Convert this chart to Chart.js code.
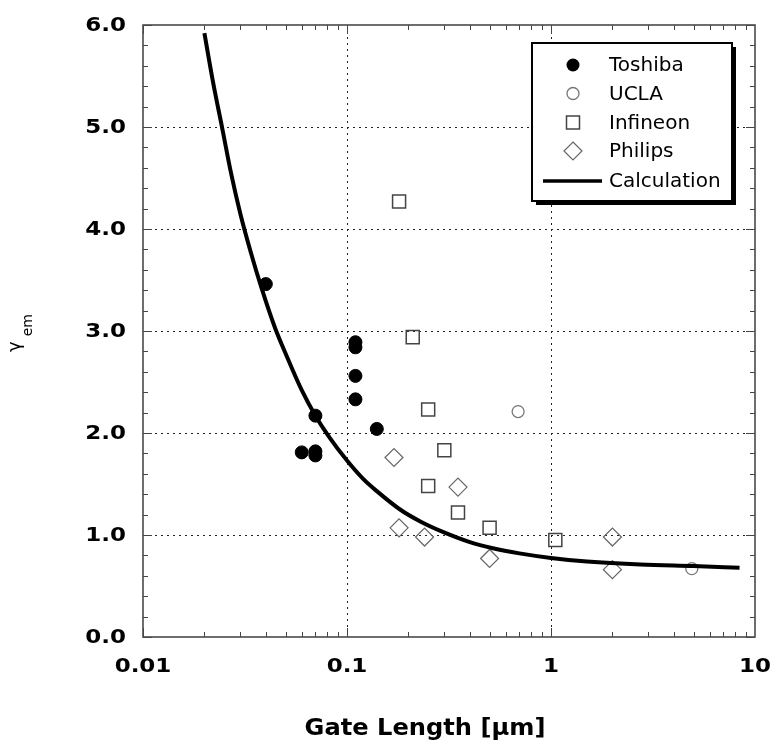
<!DOCTYPE html>
<html>
<head>
<meta charset="utf-8">
<script src="https://cdn.jsdelivr.net/npm/chart.js@4.4.1/dist/chart.umd.min.js"></script>
<style>
  html, body { margin: 0; padding: 0; background: #ffffff; }
  #c { display: block; }
</style>
</head>
<body>
<canvas id="c" width="772" height="740"></canvas>
<script>
// ---- data ----
const toshibaX = [0.04, 0.06, 0.07, 0.07, 0.07, 0.11, 0.11, 0.11, 0.11, 0.14];
const toshibaY = [3.46, 1.81, 1.82, 1.78, 2.17, 2.89, 2.84, 2.56, 2.33, 2.04];
const uclaX = [0.69, 4.9];
const uclaY = [2.21, 0.67];
const infineonX = [0.18, 0.21, 0.25, 0.30, 0.25, 0.35, 0.50, 1.05];
const infineonY = [4.27, 2.94, 2.23, 1.83, 1.48, 1.22, 1.07, 0.95];
const philipsX = [0.17, 0.35, 0.18, 0.24, 0.50, 2.0, 2.0];
const philipsY = [1.76, 1.47, 1.07, 0.98, 0.77, 0.98, 0.66];
const calcX = [0.02, 0.022, 0.0245, 0.027, 0.03, 0.034, 0.038, 0.0444, 0.05, 0.06, 0.07, 0.0825, 0.1, 0.12, 0.14, 0.182, 0.23, 0.295, 0.4, 0.519, 0.7, 1.0, 1.5, 2.75, 5.0, 8.4];
const calcY = [5.92, 5.45, 4.98, 4.55, 4.15, 3.75, 3.43, 3.03, 2.78, 2.42, 2.17, 1.95, 1.73, 1.55, 1.43, 1.25, 1.13, 1.03, 0.93, 0.87, 0.82, 0.775, 0.74, 0.71, 0.695, 0.68];

const seriesNames = ['Toshiba', 'UCLA', 'Infineon', 'Philips', 'Calculation'];
const xTickValues = [0.01, 0.1, 1, 10];
const xTickLabels = ['0.01', '0.1', '1', '10'];
const yTickValues = [0, 1, 2, 3, 4, 5, 6];
const yTickLabels = ['0.0', '1.0', '2.0', '3.0', '4.0', '5.0', '6.0'];
const xTitle = 'Gate Length [\u03BCm]';
const yTitleMain = '\u03B3';
const yTitleSub = 'em';

function pts(xs, ys) { return xs.map((x, i) => ({ x: x, y: ys[i] })); }

const BOLD = 'bold 20px "DejaVu Sans"';

const framePlugin = {
  id: 'frame',
  beforeDatasetsDraw(chart) {
    const { ctx, chartArea: a, scales } = chart;
    const xs = scales.x, ys = scales.y;
    ctx.save();
    ctx.strokeStyle = '#222';
    ctx.lineWidth = 1;
    ctx.setLineDash([2, 4]);
    [0.1, 1].forEach(v => {
      const px = Math.round(xs.getPixelForValue(v)) + 0.5;
      ctx.beginPath(); ctx.moveTo(px, a.top); ctx.lineTo(px, a.bottom); ctx.stroke();
    });
    [1, 2, 3, 4, 5].forEach(v => {
      const py = Math.round(ys.getPixelForValue(v)) + 0.5;
      ctx.beginPath(); ctx.moveTo(a.left, py); ctx.lineTo(a.right, py); ctx.stroke();
    });
    ctx.restore();
  },
  afterDatasetsDraw(chart) {
    const { ctx, chartArea: a, scales } = chart;
    const xs = scales.x, ys = scales.y;
    ctx.save();
    // ticks
    ctx.strokeStyle = '#444';
    ctx.lineWidth = 1;
    ctx.setLineDash([]);
    const decades = [0.01, 0.1, 1];
    decades.forEach(d => {
      for (let m = 1; m <= 9; m++) {
        const v = d * m;
        const px = Math.round(xs.getPixelForValue(v)) + 0.5;
        const len = m === 1 ? 9 : 5;
        ctx.beginPath(); ctx.moveTo(px, a.bottom); ctx.lineTo(px, a.bottom - len); ctx.stroke();
        ctx.beginPath(); ctx.moveTo(px, a.top); ctx.lineTo(px, a.top + len); ctx.stroke();
      }
    });
    for (let i = 0; i <= 30; i++) {
      const v = i * 0.2;
      const py = Math.round(ys.getPixelForValue(v)) + 0.5;
      const len = (i % 5 === 0) ? 9 : 5;
      ctx.beginPath(); ctx.moveTo(a.left, py); ctx.lineTo(a.left + len, py); ctx.stroke();
      ctx.beginPath(); ctx.moveTo(a.right, py); ctx.lineTo(a.right - len, py); ctx.stroke();
    }
    // frame
    ctx.strokeStyle = '#4a4a4a';
    ctx.lineWidth = 1.6;
    ctx.strokeRect(a.left, a.top, a.right - a.left, a.bottom - a.top);

    // tick labels (wide bold face)
    ctx.fillStyle = '#000';
    ctx.font = BOLD;
    ctx.textBaseline = 'middle';
    const sx = 1.15;
    ctx.textAlign = 'right';
    yTickValues.forEach((v, i) => {
      const py = ys.getPixelForValue(v);
      ctx.save(); ctx.translate(126, py + 1); ctx.scale(sx, 1);
      ctx.fillText(yTickLabels[i], 0, 0); ctx.restore();
    });
    ctx.textAlign = 'center';
    xTickValues.forEach((v, i) => {
      const px = xs.getPixelForValue(v);
      ctx.save(); ctx.translate(px, 667); ctx.scale(sx, 1);
      ctx.fillText(xTickLabels[i], 0, 0); ctx.restore();
    });
    // x title
    ctx.font = 'bold 23px "DejaVu Sans"';
    ctx.textBaseline = 'alphabetic';
    ctx.save(); ctx.translate(425, 735); ctx.scale(1.05, 1);
    ctx.fillText(xTitle, 0, 0); ctx.restore();
    // y title (gamma with subscript), rotated
    ctx.save();
    ctx.translate(20, 352);
    ctx.rotate(-Math.PI / 2);
    ctx.textAlign = 'left';
    ctx.font = '18px "DejaVu Sans"';
    ctx.fillText(yTitleMain, 0, 0);
    const gw = ctx.measureText(yTitleMain).width;
    ctx.font = '14px "DejaVu Sans"';
    ctx.fillText(yTitleSub, gw + 5, 12);
    ctx.restore();

    // legend
    const L = 532, T = 43, R = 732, B = 201;
    ctx.fillStyle = '#000';
    ctx.fillRect(L + 4, T + 4, R - L, B - T);
    ctx.fillStyle = '#fff';
    ctx.fillRect(L, T, R - L, B - T);
    ctx.strokeStyle = '#000';
    ctx.lineWidth = 2;
    ctx.strokeRect(L, T, R - L, B - T);
    const rows = [65, 93.5, 122.5, 151, 181];
    const mx = 573;
    // Toshiba
    ctx.beginPath(); ctx.arc(mx, rows[0], 6.5, 0, Math.PI * 2); ctx.fillStyle = '#000'; ctx.fill();
    // UCLA
    ctx.beginPath(); ctx.arc(mx, rows[1], 6, 0, Math.PI * 2); ctx.strokeStyle = '#777'; ctx.lineWidth = 1.3; ctx.stroke();
    // Infineon
    ctx.strokeStyle = '#444'; ctx.lineWidth = 1.5;
    ctx.strokeRect(mx - 6.5, rows[2] - 6.5, 13, 13);
    // Philips
    ctx.strokeStyle = '#666'; ctx.lineWidth = 1.2;
    ctx.beginPath(); ctx.moveTo(mx, rows[3] - 9); ctx.lineTo(mx + 9, rows[3]); ctx.lineTo(mx, rows[3] + 9); ctx.lineTo(mx - 9, rows[3]); ctx.closePath(); ctx.stroke();
    // Calculation
    ctx.strokeStyle = '#000'; ctx.lineWidth = 3.5;
    ctx.beginPath(); ctx.moveTo(543, rows[4]); ctx.lineTo(602, rows[4]); ctx.stroke();
    ctx.fillStyle = '#000';
    ctx.font = '20px "DejaVu Sans"';
    ctx.textAlign = 'left';
    ctx.textBaseline = 'middle';
    seriesNames.forEach((n, i) => ctx.fillText(n, 609, rows[i] + 1));
    ctx.restore();
  }
};

new Chart(document.getElementById('c'), {
  type: 'scatter',
  data: {
    datasets: [
      { label: seriesNames[4], type: 'line', data: pts(calcX, calcY), borderColor: '#000', borderWidth: 4,
        pointRadius: 0, showLine: true, fill: false, cubicInterpolationMode: 'monotone', order: 0 },
      { label: seriesNames[0], data: pts(toshibaX, toshibaY), pointStyle: 'circle', pointRadius: 6.5,
        backgroundColor: '#000', borderColor: '#000', borderWidth: 1, order: 1 },
      { label: seriesNames[1], data: pts(uclaX, uclaY), pointStyle: 'circle', pointRadius: 6,
        backgroundColor: 'rgba(0,0,0,0)', borderColor: '#777', borderWidth: 1.3, order: 1 },
      { label: seriesNames[2], data: pts(infineonX, infineonY), pointStyle: 'rect', pointRadius: 9.2,
        backgroundColor: 'rgba(0,0,0,0)', borderColor: '#444', borderWidth: 1.5, order: 1 },
      { label: seriesNames[3], data: pts(philipsX, philipsY), pointStyle: 'rectRot', pointRadius: 9,
        backgroundColor: 'rgba(0,0,0,0)', borderColor: '#666', borderWidth: 1.2, order: 1 }
    ]
  },
  options: {
    responsive: false,
    animation: false,
    layout: { padding: { left: 143, right: 17, top: 25, bottom: 103 } },
    scales: {
      x: { type: 'logarithmic', min: 0.01, max: 10, display: false },
      y: { type: 'linear', min: 0, max: 6, display: false }
    },
    plugins: { legend: { display: false }, tooltip: { enabled: false } }
  },
  plugins: [framePlugin]
});
</script>
</body>
</html>
